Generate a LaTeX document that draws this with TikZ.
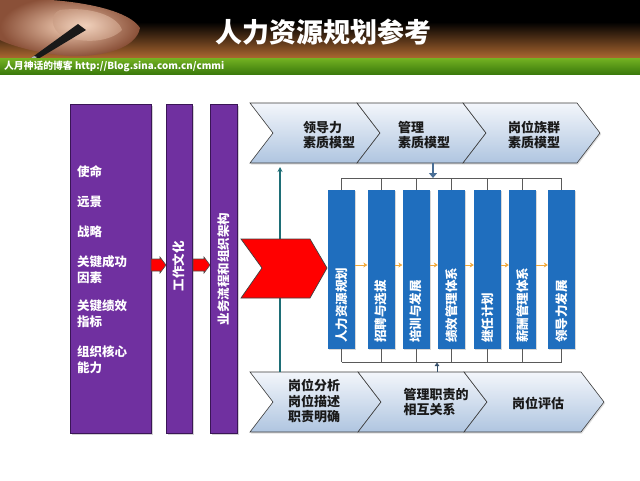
\documentclass[tikz,border=0pt]{standalone}
\usepackage{fontspec}
\newfontfamily\cjk{Noto Sans CJK SC}
\usetikzlibrary{shadows,arrows.meta}
\definecolor{purp}{HTML}{7030A0}
\definecolor{purpdark}{HTML}{3A1656}
\definecolor{boxblue}{HTML}{1F6EBE}
\definecolor{chevtop}{HTML}{F3F6FB}
\definecolor{chevbot}{HTML}{AFC5E0}
\definecolor{chevline}{HTML}{3C3C3C}
\definecolor{tealc}{HTML}{1E6E76}
\definecolor{orarr}{HTML}{F2A93B}
\definecolor{brk}{HTML}{5A5A5A}
\definecolor{gtop}{HTML}{74B222}
\definecolor{gbot}{HTML}{3B7A0C}
\definecolor{hdrbrown}{HTML}{B06A32}
\definecolor{skin}{HTML}{F2CDB4}
\definecolor{skindark}{HTML}{8A5038}
\definecolor{arrblue}{HTML}{4A6F96}
\newcommand\chevpath[3]{(#1,#2) -- ++(#3-23,0) -- ++(23,30) -- ++(-23,30) -- ++(-#3+23,0) -- ++(23,-30) -- cycle}
\newcommand\blockarr[3]{(#1,#3-6) -- (#2-6,#3-6) -- (#2-6,#3-8) -- (#2,#3) -- (#2-6,#3+8) -- (#2-6,#3+6) -- (#1,#3+6) -- cycle}
\begin{document}
\begin{tikzpicture}[x=1pt,y=-1pt,
  purplecol/.style={fill=purp, draw=purpdark, line width=0.8pt, inner sep=0pt,
    drop shadow={shadow xshift=1.5pt, shadow yshift=-1.5pt, opacity=0.35}},
  chev/.style={top color=chevtop, bottom color=chevbot, draw=chevline, line width=0.6pt,
    drop shadow={shadow xshift=1pt, shadow yshift=-1.5pt, opacity=0.25}},
  chtext/.style={font=\cjk\bfseries\fontsize{13}{15.5}\selectfont, text=black!90, align=left, inner sep=0pt},
  coltext/.style={font=\cjk\bfseries\fontsize{12.5}{16}\selectfont, text=white, align=left, inner sep=0pt},
  bluebox/.style={fill=boxblue, draw=none, inner sep=0pt, minimum width=27pt, minimum height=159pt,
    drop shadow={shadow xshift=1pt, shadow yshift=-1pt, opacity=0.3}},
  boxtext/.style={font=\cjk\bfseries\fontsize{12.5}{14}\selectfont, text=white, inner sep=0pt},
  orarrow/.style={draw=orarr, line width=1pt, -{Stealth[length=4pt,width=5pt]}},
  bracket/.style={draw=brk, line width=0.7pt},
  redarr/.style={fill=red, draw=black!70, line width=0.6pt}]
\useasboundingbox (0,0) rectangle (640,480);
\fill[white] (0,0) rectangle (640,480);
% header
\fill[black] (0,0) rectangle (640,30);
\fill[top color=black, bottom color=hdrbrown] (0,22) rectangle (640,59);
\shade[inner color=skin, outer color=skindark] (0,0) .. controls (45,-4) and (125,4) .. (140,28)
  .. controls (136,48) and (105,57) .. (70,56) .. controls (40,54) and (12,46) .. (0,40) -- cycle;
\shade[inner color=skin!80!white, outer color=skin!60!skindark, opacity=0.8] (60,10) .. controls (90,6) and (118,16) .. (122,30)
  .. controls (110,42) and (85,44) .. (62,36) .. controls (50,28) and (50,14) .. (60,10) -- cycle;
\fill[black!90] (27,61) -- (33,62) -- (86,30) -- (78,24) -- cycle;
\fill[gray!60] (28,60) -- (31,61) -- (37,57) -- (34,56) -- cycle;
\fill[top color=gtop, bottom color=gbot] (0,58) rectangle (640,74);
\node[font=\cjk\bfseries\fontsize{27}{30}\selectfont, text=white] (title) at (323,32) {人力资源规划参考};
\node[anchor=west, font=\cjk\bfseries\fontsize{9.8}{11}\selectfont, text=white, inner sep=0pt] (blog) at (4,66.5) {人月神话的博客 http://Blog.sina.com.cn/cmmi};
% purple columns
\node[purplecol, minimum width=81pt, minimum height=329pt, anchor=north west] (c1) at (70,104) {};
\node[purplecol, minimum width=26pt, minimum height=329pt, anchor=north west] (c2) at (166,104) {};
\node[purplecol, minimum width=27pt, minimum height=329pt, anchor=north west] (c3) at (210,104) {};
\node[coltext, anchor=west] (t1) at (77,172) {使命};
\node[coltext, anchor=west] (t2) at (77,202) {远景};
\node[coltext, anchor=west] (t3) at (77,232) {战略};
\node[coltext, anchor=west] (t4) at (77,270) {关键成功\\因素};
\node[coltext, anchor=west] (t5) at (77,314) {关键绩效\\指标};
\node[coltext, anchor=west] (t6) at (77,360) {组织核心\\能力};
\node[coltext, rotate=90] (t7) at (179,266) {工作文化};
\node[coltext, rotate=90] (t8) at (223.5,269) {业务流程和组织架构};
\filldraw[redarr] \blockarr{151}{166}{265};
\filldraw[redarr] \blockarr{193}{210}{265};
% chevrons
\path[chev] \chevpath{250}{103}{130};
\path[chev] \chevpath{357}{103}{129};
\path[chev] \chevpath{463}{103}{137};
\path[chev] \chevpath{250}{372}{131};
\path[chev] \chevpath{358}{372}{129};
\path[chev] \chevpath{464}{372}{140};
\node[chtext] (k1) at (329,135) {领导力\\素质模型};
\node[chtext] (k2) at (424,135) {管理\\素质模型};
\node[chtext] (k3) at (534,135) {岗位族群\\素质模型};
\node[chtext] (k4) at (314,401) {岗位分析\\岗位描述\\职责明确};
\node[chtext] (k5) at (436,402) {管理职责的\\相互关系};
\node[chtext] (k6) at (538,403) {岗位评估};
\coordinate (tealbot) at (280,372);
\coordinate (tealtop) at (280,167);
\draw[tealc, line width=1.3pt, -{Stealth[length=5pt,width=5pt]}] (tealbot) -- (tealtop);
% big red chevron
\filldraw[fill=red, draw=black!75, line width=0.7pt] (241,239) -- (310,239) -- (327,268) -- (310,298) -- (241,298) -- (262,268) -- cycle;
% blue boxes
\foreach \i/\x in {1/341.5,2/381,3/416,4/451.5,5/487.5,6/522.5,7/561.5}{
  \node[bluebox, anchor=north] (b\i) at (\x,190) {};
}
\node[boxtext, rotate=90, anchor=west] (bt1) at (341.5,343) {人力资源规划};
\node[boxtext, rotate=90, anchor=west] (bt2) at (381,343) {招聘与选拔};
\node[boxtext, rotate=90, anchor=west] (bt3) at (416,343) {培训与发展};
\node[boxtext, rotate=90, anchor=west] (bt4) at (451.5,343) {绩效管理体系};
\node[boxtext, rotate=90, anchor=west] (bt5) at (487.5,343) {继任计划};
\node[boxtext, rotate=90, anchor=west] (bt6) at (522.5,343) {薪酬管理体系};
\node[boxtext, rotate=90, anchor=west] (bt7) at (561.5,343) {领导力发展};
% brackets
\coordinate (topline) at (0,178);
\coordinate (botline) at (0,362);
\draw[bracket] (b1.north |- topline) -- (b7.north |- topline);
\draw[bracket] (b1.south |- botline) -- (b7.south |- botline);
\foreach \i in {1,...,7}{
  \draw[bracket] (b\i.north) -- (b\i.north |- topline);
  \draw[bracket] (b\i.south) -- (b\i.south |- botline);
}
\coordinate (ar) at (0,265);
\foreach \i/\j in {1/2,2/3,3/4,4/5,5/6,6/7}{
  \draw[orarrow] (b\i.east |- ar) -- (b\j.west |- ar);
}
\coordinate (dnfrom) at (433,163);
\coordinate (dnto) at (433,178);
\draw[arrblue, line width=2.4pt, -{Triangle[length=5pt,width=8pt]}] (dnfrom) -- (dnto);
\coordinate (upfrom) at (437,372);
\coordinate (upto) at (437,362.5);
\draw[arrblue!70!black, line width=1pt, -{Triangle[length=3.5pt,width=4.5pt]}] (upfrom) -- (upto);
\end{tikzpicture}
\end{document}
